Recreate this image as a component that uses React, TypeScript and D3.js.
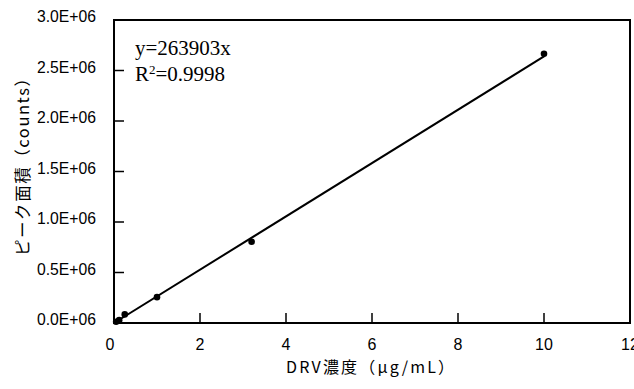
import React from "react";
import * as d3 from "d3";

const concentrations = [0.05, 0.12, 0.25, 1, 3.2, 10];
const areas = [12000, 28000, 85000, 256000, 805000, 2665000];
const slope = 263903;
const xTicks = [0, 2, 4, 6, 8, 10, 12];
const yTicks = [0, 0.5e6, 1.0e6, 1.5e6, 2.0e6, 2.5e6, 3.0e6];
const yTickLabels = ["0.0E+06", "0.5E+06", "1.0E+06", "1.5E+06", "2.0E+06", "2.5E+06", "3.0E+06"];
const equationText = "y=263903x";
const r2Text = "0.9998";
const xLabel = "DRV濃度（μg/mL）";
const yLabel = "ピーク面積（counts）";

export default function App() {
  const W = 634, H = 389;
  const left = 114, right = 630, top = 20, bottom = 323;
  const x = d3.scaleLinear().domain([0, 12]).range([left, right]);
  const y = d3.scaleLinear().domain([0, 3.0e6]).range([bottom, top]);
  const line = d3.line<number>().x((d) => x(d)).y((d) => y(slope * d));
  const sans = "'Liberation Sans', Arial, sans-serif";
  const cjk = "'Noto Sans CJK JP', 'Liberation Sans', sans-serif";
  return (
    <svg width={W} height={H} style={{ position: "absolute", left: 0, top: 0, background: "#fff" }}>
      <rect x={0} y={0} width={W} height={H} fill="#fff" />
      {yTicks.map((t, i) => (
        <g key={"y" + i}>
          <line x1={left} x2={left + 10} y1={y(t)} y2={y(t)} stroke="#000" strokeWidth={1.5} />
          <text x={96} y={y(t) + 2} textAnchor="end" fontFamily={sans} fontSize={16} fill="#000"
            textLength={59} lengthAdjust="spacingAndGlyphs">
            {yTickLabels[i]}
          </text>
        </g>
      ))}
      {xTicks.map((t, i) => (
        <g key={"x" + i}>
          <line x1={x(t)} x2={x(t)} y1={bottom} y2={bottom - 10} stroke="#000" strokeWidth={1.5} />
          <text x={x(t) - (t === 0 ? 4 : 0)} y={350} textAnchor="middle" fontFamily={sans} fontSize={16} fill="#000">
            {t}
          </text>
        </g>
      ))}
      <rect x={left} y={top} width={right - left} height={bottom - top} fill="none" stroke="#000" strokeWidth={2} />
      <path d={line([0, 10]) || ""} fill="none" stroke="#000" strokeWidth={2} />
      {concentrations.map((c, i) => (
        <circle key={"p" + i} cx={x(c)} cy={y(areas[i])} r={3.3} fill="#000" />
      ))}
      <text x={135} y={55} fontFamily="'Liberation Serif', 'Times New Roman', serif" fontSize={21} fill="#000">
        {equationText}
      </text>
      <text x={135} y={81} fontFamily="'Liberation Serif', 'Times New Roman', serif" fontSize={21} fill="#000">
        R<tspan fontSize={13} dy={-7}>2</tspan>
        <tspan dy={7}>={r2Text}</tspan>
      </text>
      <text x={370} y={373} textAnchor="middle" fontFamily={cjk} fontSize={16} fill="#000"
        textLength={168} lengthAdjust="spacing">
        {xLabel}
      </text>
      <text transform={`translate(29,163) rotate(-90)`} textAnchor="middle" fontFamily={cjk} fontSize={16.5} fill="#000"
        textLength={186} lengthAdjust="spacing">
        {yLabel}
      </text>
    </svg>
  );
}
